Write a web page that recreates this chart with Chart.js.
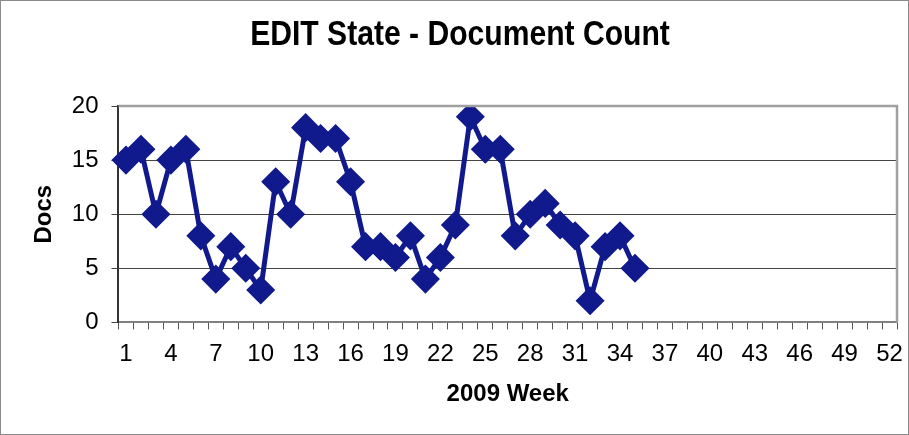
<!DOCTYPE html>
<html>
<head>
<meta charset="utf-8">
<script src="https://cdn.jsdelivr.net/npm/chart.js@4"></script>
<style>
  html, body { margin: 0; padding: 0; background: #fff; }
  #wrap {
    width: 909px; height: 435px; box-sizing: border-box;
    border: 1px solid #8a8a8a; position: relative;
  }
</style>
</head>
<body>
<div id="wrap"><canvas id="chart"></canvas></div>
<script>
// data
const weeks = Array.from({ length: 52 }, (_, i) => String(i + 1));
const docCounts = [15, 16, 10, 15, 16, 8, 4, 7, 5, 3, 13, 10, 18, 17, 17, 13, 7, 7, 6, 8,
  4, 6, 9, 19, 16, 16, 8, 10, 11, 9, 8, 2, 7, 8, 5];
const yTicks = [0, 5, 10, 15, 20];
const chartTitle = "EDIT State - Document Count";

const FONT = "'Liberation Sans', Arial, sans-serif";
const NAVY = "#111a8c";

// gray frame round the plot area + a narrow bold title (Excel look)
const extras = {
  id: "extras",
  afterDatasetsDraw(chart) {
    const { ctx, chartArea: a } = chart;
    ctx.save();
    ctx.strokeStyle = "#a0a0a0";
    ctx.lineWidth = 2.5;
    ctx.beginPath();
    ctx.moveTo(a.left, a.top);
    ctx.lineTo(a.right, a.top);
    ctx.lineTo(a.right, a.bottom);
    ctx.stroke();
    ctx.restore();
  },
  afterDraw(chart) {
    const { ctx } = chart;
    ctx.save();
    ctx.translate(459, 34);
    ctx.scale(0.86, 1);
    ctx.font = "bold 35px " + FONT;
    ctx.fillStyle = "#000";
    ctx.textAlign = "center";
    ctx.textBaseline = "middle";
    ctx.fillText(chartTitle, 0, 0);
    ctx.restore();
  }
};

new Chart(document.getElementById("chart"), {
  type: "line",
  data: {
    labels: weeks,
    datasets: [{
      label: "Docs",
      data: docCounts,
      borderColor: NAVY,
      backgroundColor: NAVY,
      borderWidth: 5,
      pointStyle: "rectRot",
      pointRadius: 11,
      pointHoverRadius: 11,
      tension: 0
    }]
  },
  options: {
    responsive: true,
    maintainAspectRatio: false,
    animation: false,
    layout: { autoPadding: false, padding: { top: 105, right: 11, left: 29, bottom: 25 } },
    plugins: {
      legend: { display: false },
      tooltip: { enabled: false },
      title: { display: false }
    },
    scales: {
      x: {
        offset: true,
        afterFit: (s) => { s.paddingRight = 0; },
        border: { color: "#808080", width: 2 },
        grid: {
          offset: true,
          drawOnChartArea: false,
          drawTicks: true,
          tickLength: 7,
          color: "#555"
        },
        ticks: {
          autoSkip: false,
          maxRotation: 0,
          color: "#000",
          font: { family: FONT, size: 24 },
          padding: 11,
          callback: (v, i) => (i % 3 === 0 ? weeks[i] : "")
        },
        title: {
          display: true,
          text: "2009 Week",
          color: "#000",
          font: { family: FONT, size: 24, weight: "bold" },
          padding: { top: 0, bottom: 0 }
        }
      },
      y: {
        min: 0,
        max: 20,
        afterBuildTicks: (s) => { s.ticks = yTicks.map((v) => ({ value: v })); },
        border: { color: "#333", width: 2 },
        grid: { color: "#444", lineWidth: 1, tickLength: 7 },
        ticks: {
          color: "#000",
          font: { family: FONT, size: 24 },
          padding: 13
        },
        title: {
          display: true,
          text: "Docs",
          color: "#000",
          font: { family: FONT, size: 24, weight: "bold" },
          padding: { top: 0, bottom: 0 }
        }
      }
    }
  },
  plugins: [extras]
});
</script>
</body>
</html>
